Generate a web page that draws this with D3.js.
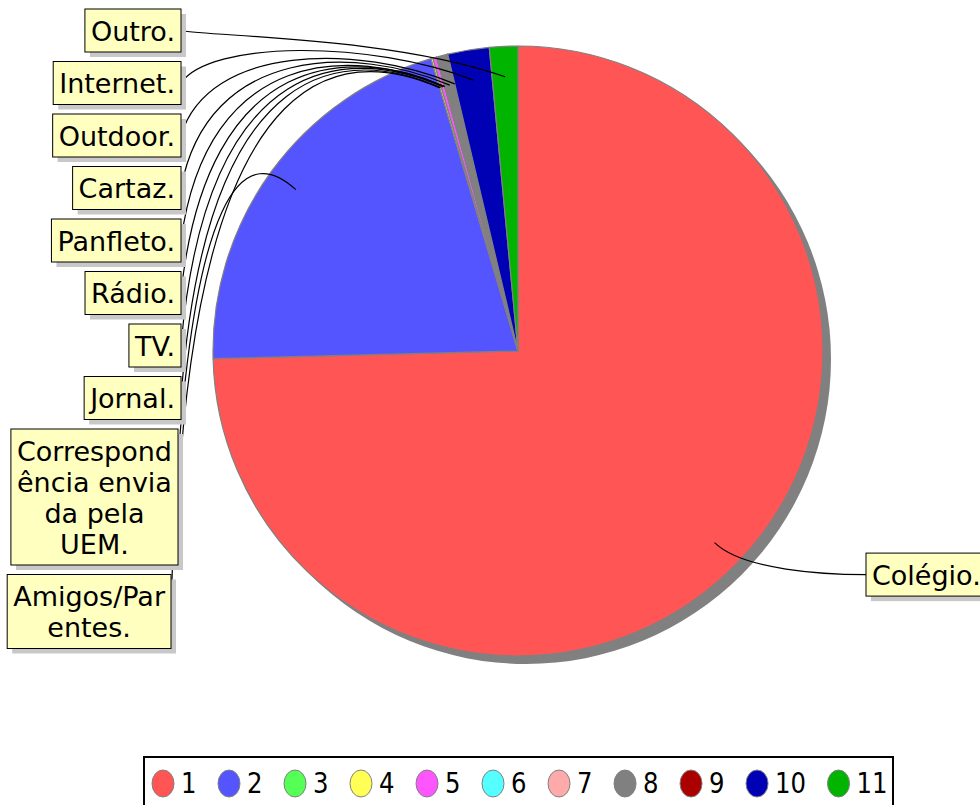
<!DOCTYPE html>
<html>
<head>
<meta charset="utf-8">
<script src="https://cdn.jsdelivr.net/npm/d3@7"></script>
<style>
  body { margin: 0; background: #fff; }
  svg { display: block; font-family: "DejaVu Sans", sans-serif; }
</style>
</head>
<body>
<div id="chart"></div>
<script>
const F_WIDTH = 980;
const F_HEIGHT = 805;

// chart data
const CATEGORIES = ["Colégio.", "Amigos/Parentes.", "Correspondência enviada pela UEM.",
  "Jornal.", "TV.", "Rádio.", "Panfleto.", "Cartaz.", "Outdoor.", "Internet.", "Outro."];
const LABEL_LINES = [["Colégio."], ["Amigos/Par", "entes."], ["Correspond", "ência envia", "da pela", "UEM."],
  ["Jornal."], ["TV."], ["Rádio."], ["Panfleto."], ["Cartaz."], ["Outdoor."], ["Internet."], ["Outro."]];
const VALUES = [746, 208, 0, 1, 2, 0, 0, 6, 0, 22, 15];
const LEGEND_KEYS = ["1", "2", "3", "4", "5", "6", "7", "8", "9", "10", "11"];
const SLICE_COLORS = ["#ff5555", "#5555ff", "#55ff55", "#ffff55", "#ff55ff", "#55ffff",
  "#ffaaaa", "#808080", "#aa0000", "#0000b4", "#00b400"];

const CX = 518, CY = 351, R = 305;
const FONT = 27, LINE_H = 31;

const COLORS = d3.scaleOrdinal().domain(LEGEND_KEYS).range(SLICE_COLORS);

const FRAME = d3.select("#chart")
  .append("svg")
    .attr("width", F_WIDTH)
    .attr("height", F_HEIGHT);

const slices = d3.pie().sort(null).value(d => d.v)(
  VALUES.map((v, i) => ({v: v, idx: i, key: LEGEND_KEYS[i], lines: LABEL_LINES[i], name: CATEGORIES[i]})));

const arc = d3.arc().innerRadius(0).outerRadius(R);
const innerArc = d3.arc().innerRadius(R * 0.9).outerRadius(R * 0.9);

// shadow under the pie
FRAME.append("circle")
  .attr("cx", CX + 8).attr("cy", CY + 8).attr("r", R)
  .attr("fill", "#808080");

const pieG = FRAME.append("g").attr("transform", `translate(${CX},${CY})`);
pieG.selectAll("path.slice")
  .data(slices)
  .enter()
  .append("path")
    .attr("class", "slice")
    .attr("d", arc)
    .attr("fill", d => COLORS(d.data.key))
    .attr("stroke", "#808080")
    .attr("stroke-width", 1.2)
    .attr("stroke-linejoin", "round");

// label layout: right side for slices on the right half, stacked column on the left
const mid = d => (d.startAngle + d.endAngle) / 2;
const leftSlices = slices.filter(d => mid(d) >= Math.PI).sort((a, b) => b.data.idx - a.data.idx);
const rightSlices = slices.filter(d => mid(d) < Math.PI);

const labels = [];
let stackTop = 9;
leftSlices.forEach(d => {
  const h = d.data.lines.length * LINE_H + 12;
  labels.push({d: d, side: "left", top: stackTop, h: h});
  stackTop += h + 9.5;
});
rightSlices.forEach(d => {
  const a = mid(d);
  const yc = CY - 1.05 * R * Math.cos(a);
  labels.push({d: d, side: "right", top: yc - 21.5, h: 43});
});

const lineG = FRAME.append("g");
const boxG = FRAME.append("g");

labels.forEach(lab => {
  const g = boxG.append("g");
  const shadow = g.append("rect").attr("fill", "#c8c8c8");
  const box = g.append("rect").attr("fill", "#ffffc0").attr("stroke", "#000").attr("stroke-width", 1);
  const txt = g.append("text")
    .attr("font-size", FONT)
    .attr("text-anchor", "middle")
    .attr("fill", "#000");
  lab.d.data.lines.forEach((s, i) => {
    txt.append("tspan").attr("x", 0).attr("y", lab.top + 31.5 + i * LINE_H).text(s);
  });
  let maxW = 0;
  txt.selectAll("tspan").each(function() { maxW = Math.max(maxW, this.getComputedTextLength()); });
  const w = maxW + 12;
  // bottom boxes sit a little further left, as in the original
  const right = lab.d.data.idx === 1 ? 171 : (lab.d.data.idx === 2 ? 178 : 181);
  const x0 = lab.side === "left" ? right - w : CX + R + 43;
  txt.selectAll("tspan").attr("x", x0 + w / 2);
  shadow.attr("x", x0 + 5).attr("y", lab.top + 5).attr("width", w).attr("height", lab.h);
  box.attr("x", x0).attr("y", lab.top).attr("width", w).attr("height", lab.h);

  // leader line from label to the slice
  const [ex, ey] = innerArc.centroid(lab.d).map((v, i) => v + (i === 0 ? CX : CY));
  const p = d3.path();
  if (lab.side === "left") {
    const px = x0 + w, py = lab.top + lab.h / 2;
    p.moveTo(px, py);
    p.bezierCurveTo(px + 0.1 * (ex - px), ey - 40, ex - 0.35 * (ex - px), ey - 40, ex, ey);
  } else {
    const px = x0, py = lab.top + lab.h / 2;
    const a = mid(lab.d);
    p.moveTo(ex, ey);
    p.bezierCurveTo(ex + 40 * Math.sin(a), ey - 40 * Math.cos(a), px - 40, py, px, py);
  }
  lineG.append("path")
    .attr("d", p.toString())
    .attr("fill", "none")
    .attr("stroke", "#000")
    .attr("stroke-width", 1.2);
});

// legend
const legend = FRAME.append("g");
legend.append("rect")
  .attr("x", 144).attr("y", 757).attr("width", 749).attr("height", 70)
  .attr("fill", "#fff").attr("stroke", "#000").attr("stroke-width", 2);

let lx = 163;
LEGEND_KEYS.forEach(k => {
  legend.append("ellipse")
    .attr("cx", lx).attr("cy", 783.5).attr("rx", 11).attr("ry", 13.5)
    .attr("fill", COLORS(k)).attr("stroke", "#808080").attr("stroke-width", 1);
  const t = legend.append("text")
    .attr("transform", `translate(${lx + 18},793) scale(0.87,1)`)
    .attr("font-size", 28)
    .text(k);
  lx += 18 + t.node().getComputedTextLength() * 0.87 + 32.5;
});
</script>
</body>
</html>
